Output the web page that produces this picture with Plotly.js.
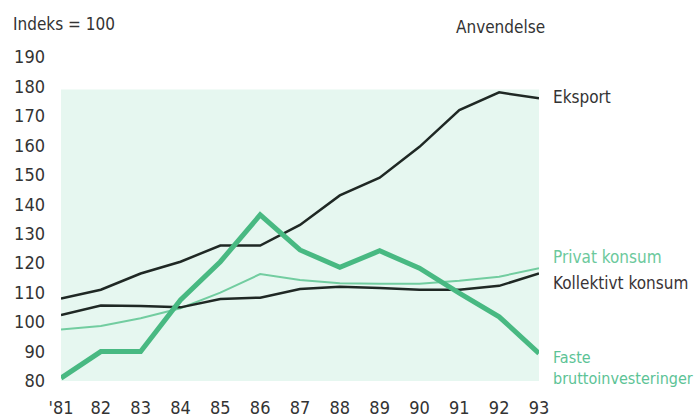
<!DOCTYPE html>
<html>
<head>
<meta charset="utf-8">
<script src="https://cdn.plot.ly/plotly-3.0.1.min.js"></script>
<style>html,body{margin:0;padding:0;background:#fff}#chart{width:699px;height:420px}</style>
</head>
<body>
<div id="chart"></div>
<script>
const years = [1981,1982,1983,1984,1985,1986,1987,1988,1989,1990,1991,1992,1993];
const yearLabels = ["'81","82","83","84","85","86","87","88","89","90","91","92","93"];
const eksport = [108,111,116.5,120.5,126,126,133,143,149,159.5,172,178,176];
const kollektivtKonsum = [102.4,105.6,105.5,105,107.8,108.3,111.2,112,111.6,111,111,112.3,116.5];
const privatKonsum = [97.5,98.7,101.3,104.7,110,116.3,114.3,113.2,113,113,114,115.4,118.3];
const fasteBruttoinvesteringer = [81,90,90,107.5,120.5,136.4,124.5,118.6,124.2,118.3,109.8,101.8,89.4];
const yTicks = [80,90,100,110,120,130,140,150,160,170,180,190];

const FONT = "'Liberation Sans Narrow', 'DejaVu Sans Condensed', 'Liberation Sans', sans-serif";
const DARK = '#1f2824';
const LIGHT = '#72cda0';
const MID = '#48b982';

const traces = [
  {x: years, y: privatKonsum, mode: 'lines', line: {color: LIGHT, width: 2}, name: 'Privat konsum'},
  {x: years, y: kollektivtKonsum, mode: 'lines', line: {color: DARK, width: 2.5}, name: 'Kollektivt konsum'},
  {x: years, y: eksport, mode: 'lines', line: {color: DARK, width: 2.5}, name: 'Eksport'},
  {x: years, y: fasteBruttoinvesteringer, mode: 'lines', line: {color: MID, width: 5}, name: 'Faste bruttoinvesteringer'}
];

const layout = {
  width: 699, height: 420,
  margin: {l: 61, r: 160, t: 57, b: 39},
  paper_bgcolor: '#ffffff', plot_bgcolor: 'rgba(0,0,0,0)',
  showlegend: false,
  font: {family: FONT, size: 18, color: '#333333'},
  xaxis: {
    range: [1981, 1993], tickvals: years, ticktext: yearLabels,
    showgrid: false, zeroline: false, showline: false, ticks: '',
    ticklabelstandoff: 14, tickfont: {size: 18, color: '#333'}
  },
  yaxis: {
    range: [80, 190], tickvals: yTicks,
    showgrid: false, zeroline: false, showline: false, ticks: '',
    ticklabelstandoff: 15, tickfont: {size: 18, color: '#333'}
  },
  shapes: [
    {type: 'rect', xref: 'x', yref: 'y', x0: 1981, x1: 1993, y0: 80, y1: 179,
     fillcolor: '#e6f7f0', line: {width: 0}, layer: 'below'}
  ],
  annotations: [
    {text: 'Indeks = 100', xref: 'paper', yref: 'paper', x: -0.105, y: 1.102, xanchor: 'left', yanchor: 'middle', showarrow: false, font: {size: 17, color: '#333'}},
    {text: 'Anvendelse', xref: 'paper', yref: 'paper', x: 1.016, y: 1.093, xanchor: 'right', yanchor: 'middle', showarrow: false, font: {size: 17, color: '#333'}},
    {text: 'Eksport', xref: 'paper', yref: 'y', x: 1.026, y: 176.5, xanchor: 'left', yanchor: 'middle', showarrow: false, font: {size: 17, color: '#333'}},
    {text: 'Privat konsum', xref: 'paper', yref: 'y', x: 1.026, y: 122, xanchor: 'left', yanchor: 'middle', showarrow: false, font: {size: 17, color: '#6cc99c'}},
    {text: 'Kollektivt konsum', xref: 'paper', yref: 'y', x: 1.026, y: 113.2, xanchor: 'left', yanchor: 'middle', showarrow: false, font: {size: 17, color: '#3a3335'}},
    {text: 'Faste<br>bruttoinvesteringer', xref: 'paper', yref: 'y', x: 1.026, y: 84.4, xanchor: 'left', yanchor: 'middle', align: 'left', showarrow: false, font: {size: 16, color: '#5cc396'}}
  ]
};

Plotly.newPlot('chart', traces, layout, {displayModeBar: false, staticPlot: true});
</script>
</body>
</html>
